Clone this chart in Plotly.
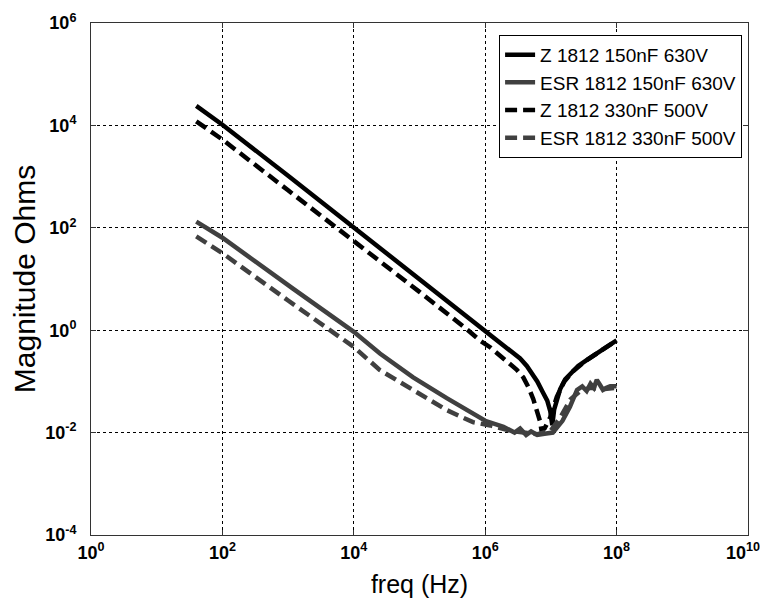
import plotly.graph_objects as go

# ---- data ----
f_z150 = [40, 100, 1e3, 1e4, 1e5, 7e5, 1e6, 1.4e6, 2e6, 2.6e6, 3.4e6, 4.3e6, 5.3e6,
          6.2e6, 7.6e6, 8.8e6, 9.8e6, 1.05e7, 1.12e7, 1.25e7, 1.38e7, 1.65e7, 1.95e7,
          2.6e7, 3.5e7, 6e7, 1e8]
z150 = [24000, 10300, 1040, 102, 10.2, 1.45, 1.0, 0.72, 0.5, 0.38, 0.28, 0.2, 0.14,
        0.1, 0.06, 0.042, 0.026, 0.014, 0.028, 0.05, 0.07, 0.11, 0.14,
        0.2, 0.26, 0.42, 0.63]

f_esr150 = [40, 100, 1200, 1e4, 2.5e4, 8e4, 2.6e5, 8.3e5, 1e6, 1.9e6, 2.8e6, 3.4e6,
            4.2e6, 5e6, 6.2e6, 8e6, 1.07e7, 1.5e7, 1.95e7, 2.5e7, 3e7, 3.5e7, 4e7,
            4.5e7, 5e7, 5.6e7, 6.2e7, 7e7, 8e7, 1e8]
esr150 = [132, 64, 6.4, 0.93, 0.35, 0.12, 0.047, 0.020, 0.017, 0.013, 0.010, 0.012,
          0.009, 0.0105, 0.009, 0.0095, 0.010, 0.017, 0.032, 0.068, 0.08, 0.065, 0.09,
          0.075, 0.107, 0.085, 0.068, 0.075, 0.08, 0.08]

f_z330 = [40, 100, 1e3, 1e4, 1e5, 5e5, 8.3e5, 1.2e6, 2.1e6, 3e6, 3.8e6, 4.6e6, 5.4e6,
          6.2e6, 6.8e6, 7.2e6, 8e6, 9.8e6, 1.23e7, 1.6e7, 2.2e7, 3.5e7, 6e7, 1e8]
z330 = [12000, 5300, 540, 56, 5.6, 1.1, 0.63, 0.46, 0.26, 0.17, 0.12, 0.075, 0.045,
        0.027, 0.017, 0.011, 0.012, 0.02, 0.05, 0.1, 0.16, 0.26, 0.42, 0.63]

f_esr330 = [40, 100, 1e3, 1e4, 2.5e4, 8e4, 2.6e5, 6.5e5, 1.2e6, 2.5e6, 4e6, 6.3e6,
            1e7, 1.4e7, 2e7, 2.8e7, 4e7, 6e7, 1e8]
esr330 = [68, 32, 3.8, 0.47, 0.166, 0.068, 0.0275, 0.016, 0.0138, 0.0107, 0.010, 0.0093,
          0.011, 0.02, 0.045, 0.065, 0.075, 0.07, 0.075]

names = ["Z 1812 150nF 630V", "ESR 1812 150nF 630V",
         "Z 1812 330nF 500V", "ESR 1812 330nF 500V"]

x_tickvals = [1, 1e2, 1e4, 1e6, 1e8, 1e10]
x_ticktext = ["10<sup>0</sup>", "10<sup>2</sup>", "10<sup>4</sup>", "10<sup>6</sup>",
              "10<sup>8</sup>", "10<sup>10</sup>&nbsp;&nbsp;"]
y_tickvals = [1e-4, 1e-2, 1, 1e2, 1e4, 1e6]
y_ticktext = ["10<sup>-4</sup>", "10<sup>-2</sup>", "10<sup>0</sup>", "10<sup>2</sup>",
              "10<sup>4</sup>", "10<sup>6</sup>"]

BLACK = "#000000"
GRAY = "#404040"
FONT = "Liberation Sans, Arial, sans-serif"

fig = go.Figure()
series = [
    (f_z150, z150, names[0], BLACK, "solid"),
    (f_esr150, esr150, names[1], GRAY, "solid"),
    (f_z330, z330, names[2], BLACK, "12px,6px"),
    (f_esr330, esr330, names[3], GRAY, "12px,6px"),
]
for fx, y, nm, col, dash in series:
    fig.add_trace(go.Scatter(x=fx, y=y, name=nm, mode="lines",
                             line=dict(color=col, width=4.5, dash=dash)))

axis_common = dict(
    type="log", automargin=False, ticklabeloverflow="allow",
    showgrid=True, gridcolor="#000000", gridwidth=1, griddash="3px,3px",
    showline=True, linecolor="#333333", linewidth=1, mirror="ticks",
    ticks="inside", ticklen=5, tickcolor="#333333", zeroline=False,
    tickfont=dict(family=FONT, size=18, color="#000000", weight="bold"),
)

fig.update_xaxes(range=[0, 10], tickvals=x_tickvals, ticktext=x_ticktext,
                 ticklabelstandoff=1, **axis_common,
                 title=dict(text="freq (Hz)", font=dict(family=FONT, size=25, color="#000"),
                            standoff=13))
fig.update_yaxes(range=[-4, 6], tickvals=y_tickvals, ticktext=y_ticktext,
                 ticklabelstandoff=10, **axis_common,
                 title=dict(text="Magnitude Ohms", font=dict(family=FONT, size=30, color="#000"),
                            standoff=0))

# page body adds an 8px offset, so margins are shifted to compensate
fig.update_layout(
    width=768, height=609,
    margin=dict(l=83, r=28, t=15, b=82),
    paper_bgcolor="#ffffff", plot_bgcolor="#ffffff",
    showlegend=True,
    legend=dict(x=0.991, y=0.977, xanchor="right", yanchor="top",
                bgcolor="#ffffff", bordercolor="#000000", borderwidth=1,
                font=dict(family=FONT, size=19, color="#000000"),
                tracegroupgap=0),
)

fig.write_html("out.html")
